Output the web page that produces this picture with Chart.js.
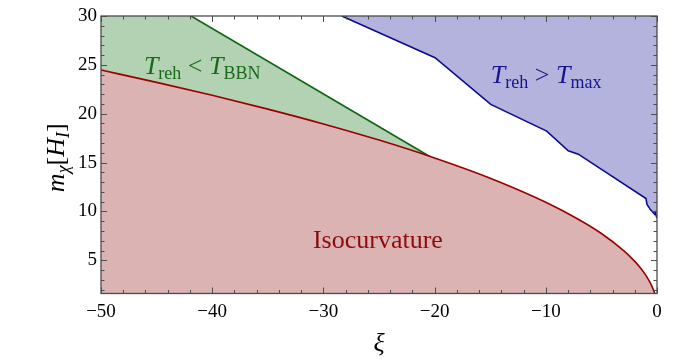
<!DOCTYPE html>
<html lang="en">
<head>
    <meta charset="UTF-8">
    <title>Isocurvature bounds</title>
    <script src="https://cdn.jsdelivr.net/npm/chart.js"></script>
    <style>
        body { margin: 0; background: #fff; }
        .wrap { width: 674px; height: 363px; position: relative; }
    </style>
</head>
<body>
    <div class="wrap"><canvas id="chart"></canvas></div>

    <script>
        // isocurvature boundary (red)
        const isoX = [-50, -45, -40, -35, -30, -25, -20, -15, -10, -7, -5, -3, -2, -1.5, -1, -0.6, -0.3, -0.1, 0];
        const isoY = [24.47, 23.21, 21.88, 20.47, 18.95, 17.30, 15.47, 13.40, 10.94, 9.15, 7.74, 5.99, 4.89, 4.24, 3.46, 2.68, 1.90, 1.09, 0];

        // T_reh < T_BBN boundary (green)
        const bbnX = [-50, -41.9, -20.4];
        const bbnY = [30, 30, 15.6];

        // T_reh > T_max boundary (blue)
        const tmaxX = [-28.35, -19.96, -14.95, -9.92, -7.98, -7.08, -0.99, -0.90, -0.75, -0.60, -0.39, -0.21, -0.15, 0];
        const tmaxY = [30, 25.73, 20.95, 18.22, 16.2, 15.86, 11.32, 10.71, 10.46, 10.19, 9.95, 9.71, 9.87, 9.3];

        const xTicks = [-50, -40, -30, -20, -10, 0];
        const yTicks = [5, 10, 15, 20, 25, 30];

        const serif = "'Liberation Serif', 'DejaVu Serif', serif";

        const pts = (xs, ys) => xs.map((x, i) => ({ x: x, y: ys[i] }));

        // frame + inward ticks on all four sides, Mathematica style
        const framePlugin = {
            id: "frame",
            afterDatasetsDraw(chart) {
                const { ctx, chartArea: a, scales: { x, y } } = chart;
                ctx.save();
                ctx.strokeStyle = "#4d4d4d";
                ctx.lineWidth = 1;
                for (let v = -50; v <= 0; v += 2) {
                    const px = Math.round(x.getPixelForValue(v)) + 0.5;
                    const len = v % 10 === 0 ? 6 : 3.5;
                    ctx.beginPath();
                    ctx.moveTo(px, a.bottom); ctx.lineTo(px, a.bottom - len);
                    ctx.moveTo(px, a.top); ctx.lineTo(px, a.top + len);
                    ctx.stroke();
                }
                for (let v = 2; v <= 30; v += 1) {
                    const py = Math.round(y.getPixelForValue(v)) + 0.5;
                    const len = v % 5 === 0 ? 6 : 3.5;
                    ctx.beginPath();
                    ctx.moveTo(a.left, py); ctx.lineTo(a.left + len, py);
                    ctx.moveTo(a.right, py); ctx.lineTo(a.right - len, py);
                    ctx.stroke();
                }
                ctx.lineWidth = 1.3;
                ctx.strokeRect(a.left, a.top, a.right - a.left, a.bottom - a.top);
                ctx.restore();
            }
        };

        // text made of pieces: normal / italic / subscript
        function richText(ctx, parts, cx, baseline, color, rotate) {
            ctx.save();
            ctx.fillStyle = color;
            ctx.textBaseline = "alphabetic";
            let w = 0;
            parts.forEach(p => { ctx.font = p.font; p.w = ctx.measureText(p.t).width; w += p.w; });
            ctx.translate(cx, baseline);
            if (rotate) ctx.rotate(-Math.PI / 2);
            let xx = -w / 2;
            parts.forEach(p => {
                ctx.font = p.font;
                ctx.fillText(p.t, xx, p.dy || 0);
                xx += p.w;
            });
            ctx.restore();
        }

        const big = "26px " + serif, bigI = "italic 26px " + serif, sub = "18px " + serif, subI = "italic 18px " + serif;

        const labelsPlugin = {
            id: "labels",
            afterDraw(chart) {
                const { ctx, chartArea: a, scales: { x, y } } = chart;
                richText(ctx, [
                    { t: "T", font: bigI }, { t: "reh", font: sub, dy: 5 },
                    { t: " < ", font: big },
                    { t: "T", font: bigI }, { t: "BBN", font: sub, dy: 5 }
                ], x.getPixelForValue(-40.9), y.getPixelForValue(24.1), "#176b17");
                richText(ctx, [
                    { t: "T", font: bigI }, { t: "reh", font: sub, dy: 5 },
                    { t: " > ", font: big },
                    { t: "T", font: bigI }, { t: "max", font: sub, dy: 5 }
                ], x.getPixelForValue(-9.97), y.getPixelForValue(23.1), "#16168c");
                richText(ctx, [{ t: "Isocurvature", font: big }],
                    x.getPixelForValue(-25.1), y.getPixelForValue(6.3), "#8e0b0b");
                // axis titles
                richText(ctx, [{ t: "\u03be", font: "italic 26px " + serif }],
                    (a.left + a.right) / 2, 351, "#000");
                richText(ctx, [
                    { t: "m", font: bigI }, { t: "\u03c7", font: subI, dy: 5 },
                    { t: "[", font: big }, { t: "H", font: bigI }, { t: "I", font: subI, dy: 5 },
                    { t: "]", font: big }
                ], 64, (a.top + a.bottom) / 2 + 3, "#000", true);
            }
        };

        new Chart(document.getElementById("chart").getContext("2d"), {
            type: "line",
            data: {
                datasets: [
                    {
                        label: "Isocurvature",
                        data: pts(isoX, isoY),
                        borderColor: "#990000",
                        borderWidth: 1.6,
                        backgroundColor: "rgb(219,179,179)",
                        fill: "start",
                        pointRadius: 0,
                        cubicInterpolationMode: "monotone"
                    },
                    {
                        label: "BBN line",
                        data: pts(bbnX.slice(1), bbnY.slice(1)),
                        borderColor: "#0f650f",
                        borderWidth: 1.6,
                        fill: false,
                        pointRadius: 0
                    },
                    {
                        label: "BBN region",
                        data: pts(bbnX, bbnY),
                        borderWidth: 0,
                        borderColor: "rgba(0,0,0,0)",
                        backgroundColor: "rgb(179,209,179)",
                        fill: "start",
                        pointRadius: 0
                    },
                    {
                        label: "Tmax",
                        data: pts(tmaxX, tmaxY),
                        borderColor: "#0c0c8f",
                        borderWidth: 1.6,
                        backgroundColor: "rgb(179,179,221)",
                        fill: "end",
                        pointRadius: 0
                    }
                ]
            },
            options: {
                responsive: true,
                maintainAspectRatio: false,
                animation: false,
                layout: { padding: { left: 0, top: 16, right: 17, bottom: 0 } },
                plugins: { legend: { display: false }, tooltip: { enabled: false } },
                scales: {
                    x: {
                        type: "linear",
                        min: -50, max: 0,
                        grid: { display: false, drawTicks: false },
                        border: { display: false },
                        afterFit: s => { s.height = 69.5; },
                        afterBuildTicks: s => { s.ticks = xTicks.map(v => ({ value: v })); },
                        ticks: {
                            padding: 7,
                            color: "#000",
                            font: { family: serif, size: 19 },
                            callback: v => String(v).replace("-", "\u2212")
                        }
                    },
                    y: {
                        min: 1.6, max: 30,
                        grid: { display: false, drawTicks: false },
                        border: { display: false },
                        afterFit: s => { s.width = 101; },
                        afterBuildTicks: s => { s.ticks = yTicks.map(v => ({ value: v })); },
                        ticks: {
                            padding: 4,
                            color: "#000",
                            font: { family: serif, size: 19 }
                        }
                    }
                }
            },
            plugins: [framePlugin, labelsPlugin]
        });
    </script>
</body>
</html>
